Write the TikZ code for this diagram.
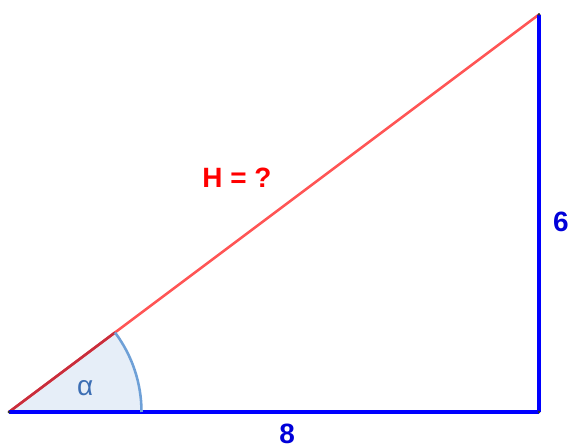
\documentclass[tikz,border=0pt]{standalone}
\usepackage{fontspec}
\setmainfont{Liberation Sans}
\usepackage{tikz}
\usetikzlibrary{positioning,calc}
\usepackage{xcolor}
\definecolor{legblue}{RGB}{0,0,255}
\definecolor{hypred}{RGB}{255,85,85}
\definecolor{hypdark}{RGB}{200,45,60}
\definecolor{arcblue}{RGB}{110,160,215}
\definecolor{arcfill}{RGB}{230,238,248}
\definecolor{alphablue}{RGB}{60,110,180}

\begin{document}
\begin{tikzpicture}[
  leg/.style={draw=legblue, line width=1.4pt},
  hyp/.style={draw=hypred, line width=1.1pt},
  vertex/.style={circle, fill=black!80, inner sep=0pt, minimum size=1.1pt},
  lbl/.style={font=\fontsize{12}{14}\selectfont\bfseries},
]
\useasboundingbox (-0.136,-0.513) rectangle (8.438,6.219);
\node[vertex] (A) at (0,0) {};
\node[vertex] (B) at (8,0) {};
\node[vertex] (C) at (8,6) {};
\coordinate (P) at (36.87:2);
% angle sector
\fill[arcfill] (A.center) -- (2,0) arc[start angle=0, end angle=36.87, radius=2] -- cycle;
% sides
\draw[hyp] (A.center) -- (C.center);
\draw[hypdark, line width=1.1pt] (A.center) -- (P);
\draw[leg] (A.center) -- (B.center);
\draw[leg] (B.center) -- (C.center);
\draw[arcblue, line width=1.1pt] (2,0) arc[start angle=0, end angle=36.87, radius=2];
\node[vertex] at (A) {};
\node[vertex] at (B) {};
\node[vertex] at (C) {};
% labels
\node[lbl, text=red] (hlabel) at (3.44,3.53) {H = ?};
\node[lbl, text=legblue!85!black] (six) at (8.33,2.87) {6};
\node[lbl, text=legblue!85!black, inner sep=1pt] (eight) at (4.2,-0.33) {8};
\node[text=alphablue, font=\fontsize{12}{14}\selectfont] (alpha) at (1.15,0.36) {α};
\end{tikzpicture}
\end{document}
